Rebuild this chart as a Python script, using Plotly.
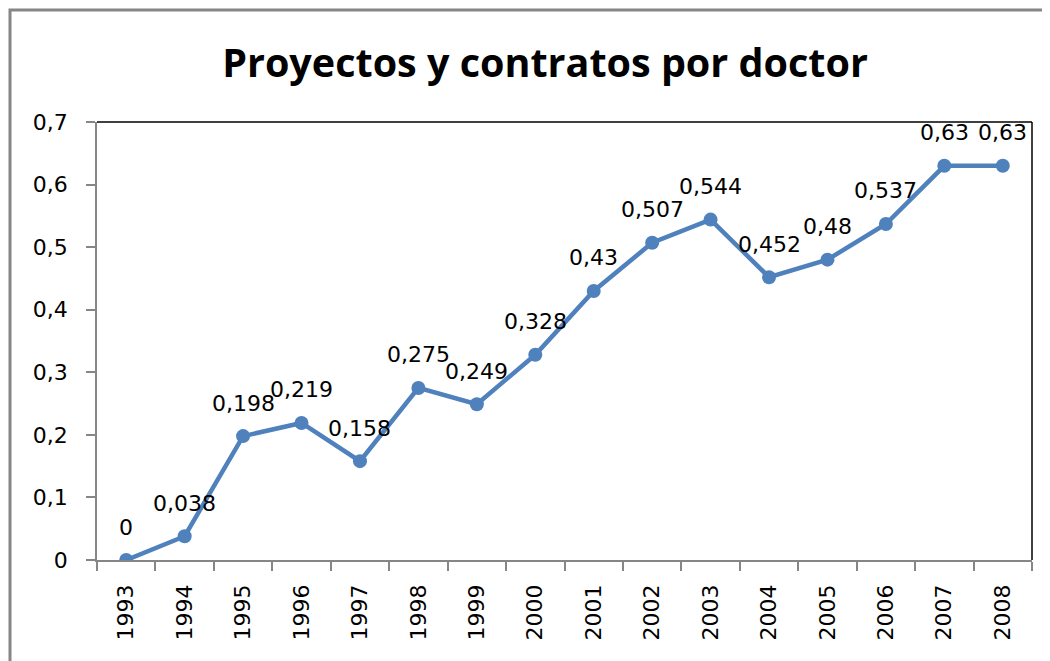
import plotly.graph_objects as go

years = ["1993", "1994", "1995", "1996", "1997", "1998", "1999", "2000",
         "2001", "2002", "2003", "2004", "2005", "2006", "2007", "2008"]
values = [0, 0.038, 0.198, 0.219, 0.158, 0.275, 0.249, 0.328,
          0.43, 0.507, 0.544, 0.452, 0.48, 0.537, 0.63, 0.63]
labels = [("%g" % v).replace(".", ",") for v in values]

title = "Proyectos y contratos por doctor"
blue = "#4F81BD"
font_main = "DejaVu Sans"

fig = go.Figure()
fig.add_trace(go.Scatter(
    x=years, y=values, mode="lines+markers",
    line=dict(color=blue, width=4.5),
    marker=dict(color=blue, size=14),
    hoverinfo="skip", showlegend=False,
))

for i, (v, t) in enumerate(zip(values, labels)):
    fig.add_annotation(x=i, y=v, text=t, showarrow=False, yshift=33,
                       font=dict(family=font_main, size=22, color="#000000"))

# page has an 8px body margin, so figure coords = page coords - 8
fig.update_layout(
    width=1050, height=661,
    margin=dict(l=89, r=26, t=114, b=109, autoexpand=False),
    paper_bgcolor="white", plot_bgcolor="white",
    separators=",.",
    title=dict(text="<b>" + title + "</b>", x=537 / 1050, xanchor="center",
               y=1 - 55 / 661, yanchor="middle",
               font=dict(family="Open Sans", size=39.5, color="#000000")),
    xaxis=dict(type="category", categoryorder="array", categoryarray=years,
               range=[-0.5, len(years) - 0.5], automargin=False,
               showgrid=False, zeroline=False,
               showline=True, linecolor="#868686", linewidth=1.5,
               ticks="outside", ticklen=9, tickcolor="#868686", tickwidth=1.5,
               tickson="boundaries", tickangle=-90, ticklabelstandoff=14,
               tickfont=dict(family=font_main, size=22, color="#000000")),
    yaxis=dict(range=[0, 0.7], dtick=0.1, tick0=0, showgrid=False,
               automargin=False,
               zeroline=False, showline=True, linecolor="#868686", linewidth=1.5,
               ticks="outside", ticklen=9, tickcolor="#868686", tickwidth=1.5,
               ticklabelstandoff=14,
               tickfont=dict(family=font_main, size=22, color="#000000")),
    shapes=[
        dict(type="rect", xref="paper", yref="paper",
             x0=-87 / 935, x1=1.2, y0=-0.5, y1=1 + 112 / 438,
             line=dict(color="#868686", width=3), layer="below"),
        dict(type="line", xref="paper", yref="paper", x0=0, x1=1, y0=1, y1=1,
             line=dict(color="#000000", width=1.5)),
        dict(type="line", xref="paper", yref="paper", x0=1, x1=1, y0=0, y1=1,
             line=dict(color="#000000", width=1.5)),
    ],
)

fig.write_html("out.html")
